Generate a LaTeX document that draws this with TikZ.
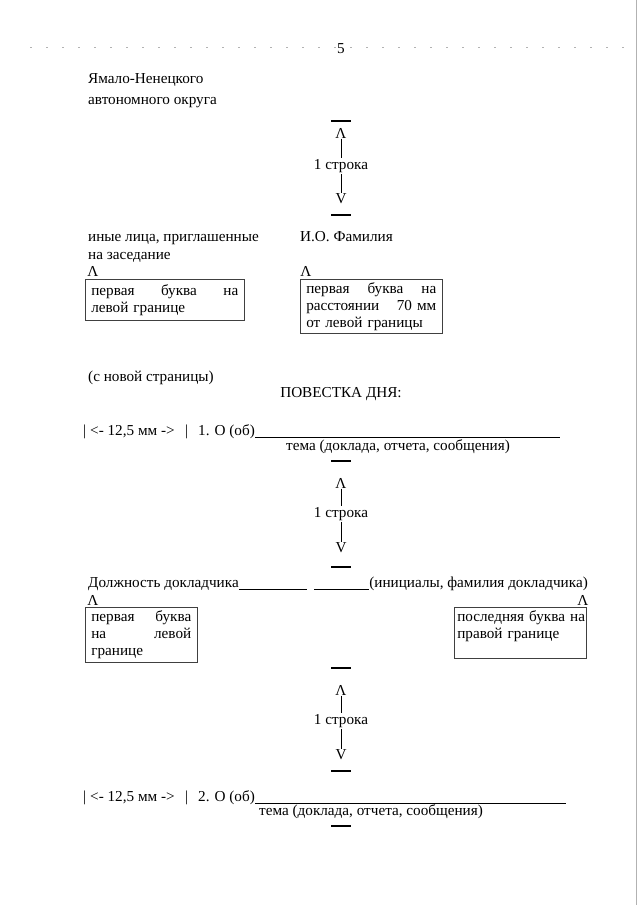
\documentclass[tikz,border=0pt]{standalone}
\usepackage{fontspec}
\setmainfont{Liberation Serif}
\usetikzlibrary{positioning}
\tikzset{
    txt/.style = {anchor=base west, inner sep=0pt},
    arrowsign/.style = {inner sep=0.5pt},
    rowlabel/.style = {inner sep=1pt},
    limitbar/.style = {rectangle, fill=black, minimum width=20pt, minimum height=1.2pt, inner sep=0pt},
    notebox/.style = {rectangle, anchor=north west, align=left, draw=black!75, line width=0.6pt, inner xsep=6pt, inner ysep=3pt},
    guide/.style = {line width=0.6pt},
    uline/.style = {line width=0.6pt},
    scanline/.style = {black!30, line width=0.4pt}
}

\begin{document}
\begin{tikzpicture}[x=1pt, y=-1pt, node distance=33pt, every node/.style={font=\fontsize{15.2}{17}\selectfont}]
\fill [white] (0,0) rectangle (640,905);
\useasboundingbox (0,0) rectangle (640,905);
% scan traces
\draw [scanline, dash pattern=on 2pt off 14pt] (30,47) -- (630,47);
\draw [scanline] (636,0) -- (636,905);

\node (pagenum) [txt, anchor=base] at (341,53) {5};
\node (region1) [txt] at (88,83) {Ямало-Ненецкого};
\node (region2) [txt] at (88,104) {автономного округа};

% 1 line gap
\node (barA1) [limitbar] at (341,121) {};
\node (lblA) [rowlabel] at (341,166) {1 строка};
\node (upA) [arrowsign, above of=lblA] {Λ};
\node (dnA) [arrowsign, below of=lblA] {V};
\node (barA2) [limitbar] at (341,215) {};
\draw [guide] (upA) -- (lblA);
\draw [guide] (lblA) -- (dnA);

\node (guests1) [txt] at (88,241) {иные лица, приглашенные};
\node (guests2) [txt] at (88,259) {на заседание};
\node (signer) [txt] at (300,241) {И.О. Фамилия};
\node (upL1) [arrowsign] at (93,271) {Λ};
\node (box1) [notebox, text width=147pt, minimum height=41pt] at (85,279) {первая\hfill буква\hfill на\\левой границе};
\node (upM1) [arrowsign] at (306,271) {Λ};
\node (box2) [notebox, text width=130pt, minimum height=54pt] at (300,279) {первая\hfill буква\hfill на\\расстоянии\hfill 70~мм\\от левой границы};

\node (newpage) [txt] at (88,381) {(с новой страницы)};
\node (agenda) [txt, anchor=base] at (341,397) {ПОВЕСТКА ДНЯ:};

% item 1
\node (pipeA1) [txt] at (83,435) {|};
\node (gap1) [txt] at (90,435) {<- 12,5 мм ->};
\node (pipeA2) [txt] at (185,435) {|};
\node (item1) [txt] at (198,435) {1. О (об)};
\coordinate (end1) at (560,437);
\draw [uline] (item1.base east) ++(0,2) -- (end1);
\node (topic1) [txt, anchor=base] at (398,450) {тема (доклада, отчета, сообщения)};

\node (barB1) [limitbar] at (341,461) {};
\node (lblB) [rowlabel] at (341,514) {1 строка};
\node (upB) [arrowsign, above of=lblB, node distance=31pt] {Λ};
\node (dnB) [arrowsign, below of=lblB, node distance=34pt] {V};
\node (barB2) [limitbar] at (341,567) {};
\draw [guide] (upB) -- (lblB);
\draw [guide] (lblB) -- (dnB);

% speaker
\node (speaker) [txt] at (88,587) {Должность докладчика};
\coordinate (sp1) at (307,589);
\coordinate (sp2) at (314,589);
\node (initials) [txt, anchor=base east] at (588,587) {(инициалы, фамилия докладчика)};
\draw [uline] (speaker.base east) ++(0,2) -- (sp1);
\draw [uline] (sp2) -- (sp2 -| initials.base west);
\node (upL2) [arrowsign] at (93,600) {Λ};
\node (upR2) [arrowsign] at (583,600) {Λ};
\node (box3) [notebox, text width=100pt, minimum height=55pt] at (85,607) {первая\hfill буква\\на\hfill левой\\границе};
\node (box4) [notebox, inner xsep=3pt, text width=126pt, minimum height=51pt] at (454,607) {\mbox{последняя буква на}\\правой границе\\\mbox{}};

\node (barC1) [limitbar] at (341,668) {};
\node (lblC) [rowlabel] at (341,721) {1 строка};
\node (upC) [arrowsign, above of=lblC, node distance=31pt] {Λ};
\node (dnC) [arrowsign, below of=lblC, node distance=34pt] {V};
\node (barC2) [limitbar] at (341,771) {};
\draw [guide] (upC) -- (lblC);
\draw [guide] (lblC) -- (dnC);

% item 2
\node (pipeB1) [txt] at (83,801) {|};
\node (gap2) [txt] at (90,801) {<- 12,5 мм ->};
\node (pipeB2) [txt] at (185,801) {|};
\node (item2) [txt] at (198,801) {2. О (об)};
\coordinate (end2) at (566,803);
\draw [uline] (item2.base east) ++(0,2) -- (end2);
\node (topic2) [txt, anchor=base] at (371,815) {тема (доклада, отчета, сообщения)};
\node (barD1) [limitbar] at (341,826) {};
\end{tikzpicture}
\end{document}
